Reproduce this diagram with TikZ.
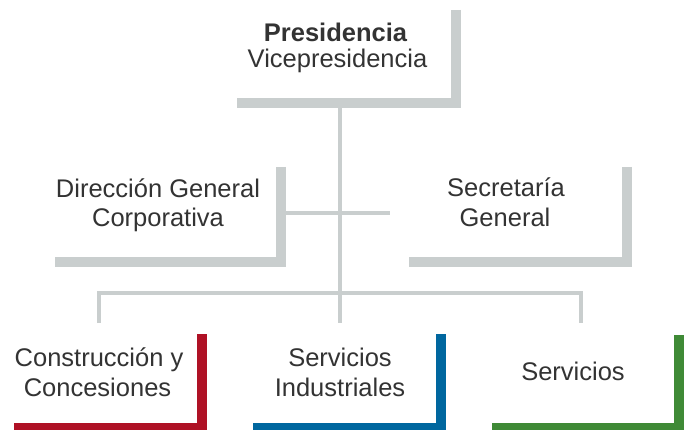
\documentclass[tikz,border=0pt]{standalone}
\usepackage{fontspec}
\setmainfont{Liberation Sans}
\definecolor{linegray}{HTML}{C9CECE}
\definecolor{textgray}{HTML}{333333}
\definecolor{barred}{HTML}{AF1125}
\definecolor{barblue}{HTML}{00679F}
\definecolor{bargreen}{HTML}{3F8A36}
\begin{document}
\begin{tikzpicture}[x=1pt,y=-1pt,
  frame/.style={draw=none, inner sep=0pt, outer sep=0pt, rectangle},
  bar/.style={line width=10pt, line cap=butt, line join=miter},
  conn/.style={draw=linegray, line width=4pt, line cap=butt, line join=miter},
  lbl/.style={anchor=base, inner sep=0pt, outer sep=0pt, text=textgray, font=\fontsize{25.5}{30}\selectfont},
  blbl/.style={lbl, font=\fontsize{25.5}{30}\selectfont\bfseries}]
\useasboundingbox (0,0) rectangle (693,430);
\clip (0,0) rectangle (693,430);
\fill[white] (0,0) rectangle (693,430);

% boxes
\node[frame, minimum width=224pt, minimum height=98pt] (top) at (349,59) {};
\node[frame, minimum width=231pt, minimum height=100pt] (dgc) at (170.5,217) {};
\node[frame, minimum width=223pt, minimum height=100pt] (sg) at (520.5,217) {};
\node[frame, minimum width=193pt, minimum height=99pt] (cc) at (110.5,383.5) {};
\node[frame, minimum width=193pt, minimum height=99pt] (si) at (349.5,383.5) {};
\node[frame, minimum width=192pt, minimum height=98pt] (sv) at (588,384) {};

% L-shaped bars
\draw[bar, draw=linegray] ([xshift=-5pt]top.north east) |- ([yshift=5pt]top.south west);
\draw[bar, draw=linegray] ([xshift=-5pt]dgc.north east) |- ([yshift=5pt]dgc.south west);
\draw[bar, draw=linegray] ([xshift=-5pt]sg.north east) |- ([yshift=5pt]sg.south west);
\draw[bar, draw=barred] ([xshift=-5pt]cc.north east) |- ([yshift=5pt]cc.south west);
\draw[bar, draw=barblue] ([xshift=-5pt]si.north east) |- ([yshift=5pt]si.south west);
\draw[bar, draw=bargreen] ([xshift=-5pt]sv.north east) |- ([yshift=5pt]sv.south west);

% connectors
\coordinate (bl) at (99,293);
\coordinate (br) at (581,293);
\coordinate (dl) at (99,323);
\coordinate (dm) at (340,323);
\coordinate (dr) at (581,323);
\coordinate (cx) at (390,213);
\draw[conn] (top.south -| dm) -- (dm);
\draw[conn] (dl) -- (bl) -- (br) -- (dr);
\draw[conn] (dgc.east |- cx) -- (cx);

% labels
\node[blbl] (t1) at (335.5,41.7) {Presidencia};
\node[lbl] (t2) at (337.5,68) {Vicepresidencia};
\node[lbl] (d1) at (158,197.5) {Dirección General};
\node[lbl] (d2) at (158,227) {Corporativa};
\node[lbl] (s1) at (506,197) {Secretaría};
\node[lbl] (s2) at (505,227) {General};
\node[lbl] (c1) at (99,366) {Construcción y};
\node[lbl] (c2) at (97.5,396) {Concesiones};
\node[lbl] (i1) at (340,366) {Servicios};
\node[lbl] (i2) at (340,396) {Industriales};
\node[lbl] (v1) at (573,380) {Servicios};
\end{tikzpicture}
\end{document}
